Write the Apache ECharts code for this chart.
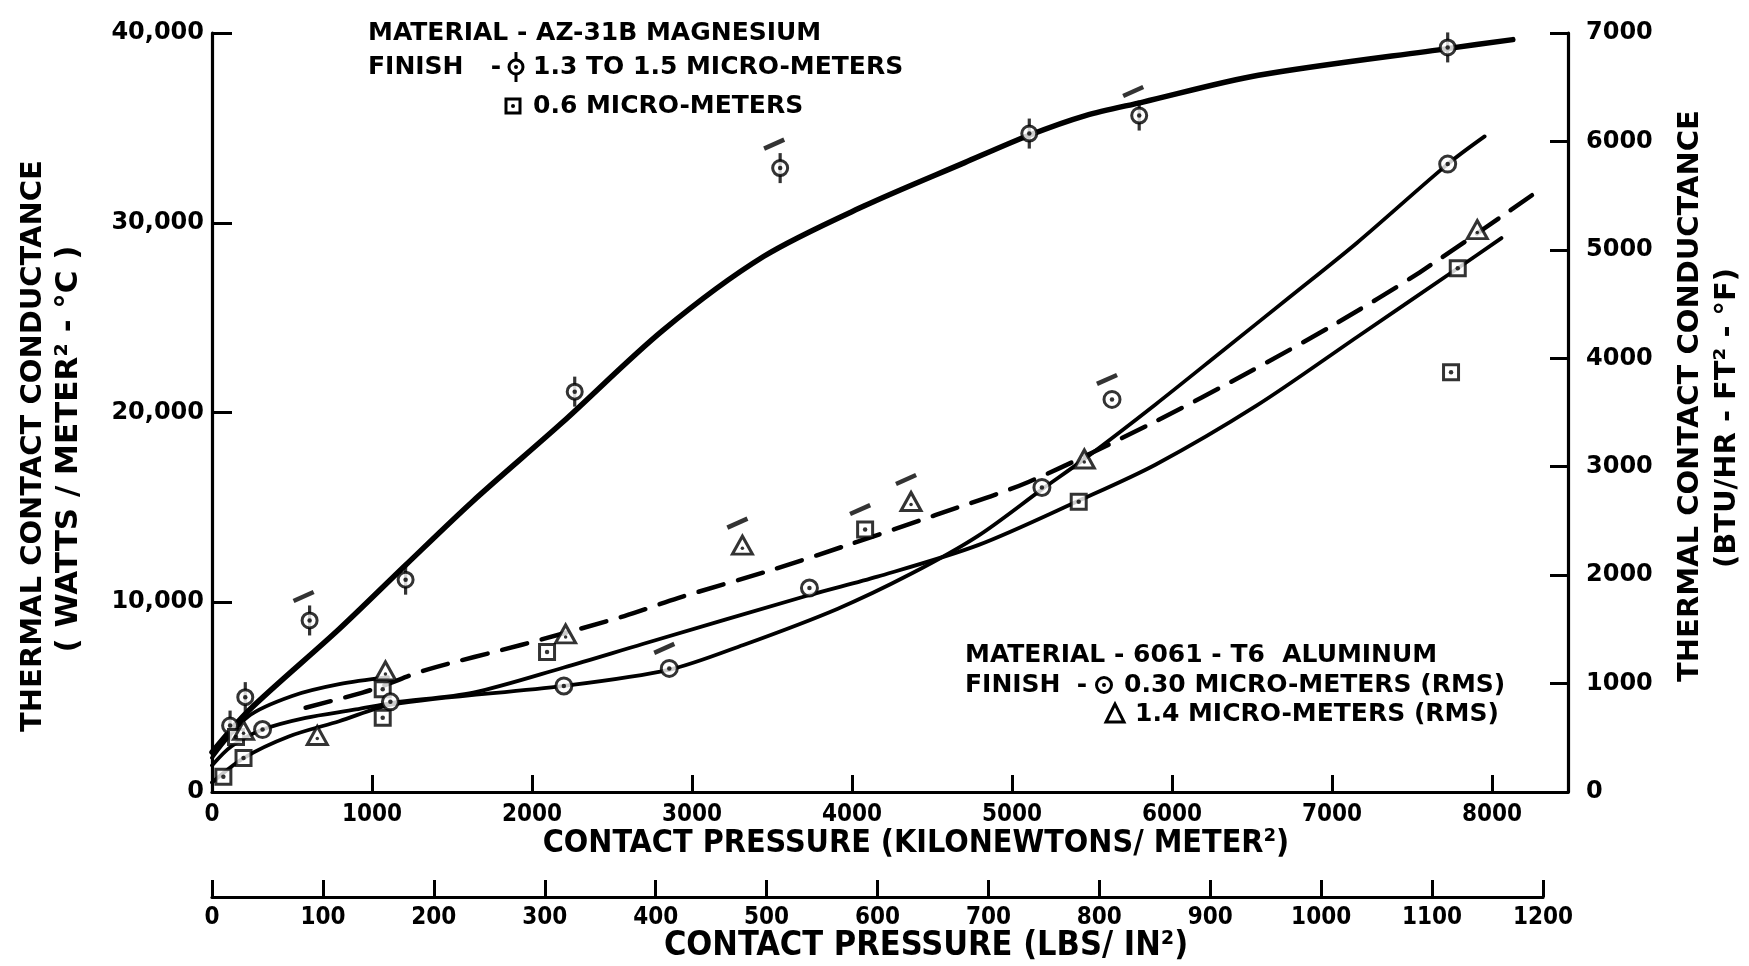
<!DOCTYPE html>
<html>
<head>
<meta charset="utf-8">
<script src="https://cdn.jsdelivr.net/npm/echarts@6/dist/echarts.min.js"></script>
<style>
  html, body { margin: 0; padding: 0; background: #fff; }
  #chart { width: 1749px; height: 966px; }
</style>
</head>
<body>
<div id="chart"></div>
<script>
// ---- axis ticks ----
const pressureKpaTicks = [0, 1000, 2000, 3000, 4000, 5000, 6000, 7000, 8000];
const pressurePsiTicks = [0, 100, 200, 300, 400, 500, 600, 700, 800, 900, 1000, 1100, 1200];
const conductanceSiTicks = [0, 10000, 20000, 30000, 40000];
const conductanceBtuTicks = [0, 1000, 2000, 3000, 4000, 5000, 6000, 7000];

// ---- AZ-31B magnesium, finish 1.3 to 1.5 micro-meters (kN/m², W/m²·°C) ----
const mgRoughPoints = [[113, 3500], [208, 5000], [610, 9040], [1210, 11190], [2267, 21100],
  [3551, 32880], [5108, 34700], [5795, 35650], [7723, 39240]];
const mgRoughFlagged = [[610, 9040], [3551, 32880], [5795, 35650]];
const mgRoughFit = [[0, 2100], [230, 4300], [795, 8590], [1209, 11950], [1627, 15300],
  [2189, 19470], [2818, 24330], [3447, 28220], [4075, 30880], [4704, 33170], [5103, 34600],
  [5459, 35650], [5818, 36360], [6540, 37770], [7730, 39190], [8130, 39650]];

// ---- AZ-31B magnesium, finish 0.6 micro-meters ----
const mgSmoothPoints = [[71, 810], [197, 1790], [150, 2900], [1067, 3910], [1067, 5410],
  [2094, 7380], [4082, 13830], [5417, 15290], [7744, 22120], [7786, 27600]];
const mgSmoothFlagged = [[4082, 13830]];
const mgSmoothFit = [[0, 1400], [120, 2400], [316, 3290], [585, 3910], [899, 4350], [1130, 4700],
  [1633, 5240], [2199, 6560], [2692, 7800], [3734, 10380], [4159, 11350], [4788, 13010],
  [5417, 15350], [5899, 17260], [6528, 20360], [7157, 23980], [7786, 27600], [8059, 29190]];

// ---- 6061-T6 aluminum, finish 0.30 micro-meters (RMS) ----
const alSmoothPoints = [[316, 3290], [1115, 4750], [2199, 5590], [2858, 6515], [3734, 10750],
  [5187, 16050], [5625, 20690], [7723, 33090]];
const alSmoothFlagged = [[2858, 6515], [5625, 20690]];
const alSmoothFit = [[0, 500], [197, 1790], [480, 2930], [795, 3730], [1130, 4620], [2199, 5590],
  [2860, 6450], [3321, 7750], [3908, 9650], [4369, 11500], [4788, 13500], [5187, 15950],
  [5449, 17530], [5899, 20440], [6319, 23270], [6738, 26100], [7157, 28950], [7723, 33090],
  [7954, 34550]];

// ---- 6061-T6 aluminum, finish 1.4 micro-meters (RMS) ----
const alRoughPoints = [[197, 3250], [658, 2980], [1084, 6380], [2210, 8330], [3315, 13010],
  [4369, 15310], [5452, 17550], [7908, 29640]];
const alRoughFlagged = [[3315, 13010], [4369, 15310]];
const alRoughLowFit = [[0, 1800], [228, 3990], [501, 5060], [795, 5680], [1100, 6050]];
const alRoughFit = [[585, 4440], [941, 5240], [1067, 5590], [1340, 6440], [1937, 7760],
  [2577, 9270], [2912, 10220], [3505, 11720], [3971, 13010], [4520, 14590], [5103, 16340],
  [5883, 19470], [6480, 22120], [7025, 24690], [7549, 27390], [8258, 31500]];

// ---- styling ----
const INK = '#000';
const BOLD = '"DejaVu Sans", "Liberation Sans", sans-serif';
const COND = '"DejaVu Sans Condensed", "DejaVu Sans", sans-serif';

const grid = { left: 212, top: 33, width: 1356, height: 759 };
const psiGrid = { left: 212, top: 870, width: 1331, height: 27 };

function fitLine(data, width, dashed) {
  return {
    type: 'line', data, smooth: 0.3, symbol: 'none', silent: true,
    xAxisIndex: 0, yAxisIndex: 0, z: 2,
    lineStyle: { color: INK, width, type: dashed ? [26, 15] : 'solid', cap: 'round', join: 'round' }
  };
}
function marker(data, symbol, size, z) {
  return {
    type: 'scatter', data, symbol, symbolSize: size, silent: true, z: z || 4,
    xAxisIndex: 0, yAxisIndex: 0,
    itemStyle: { color: '#fff', borderColor: INK, borderWidth: 3 }
  };
}
function solid(data, symbol, size, z, extra) {
  return Object.assign({
    type: 'scatter', data, symbol, symbolSize: size, silent: true, z,
    xAxisIndex: 0, yAxisIndex: 0, itemStyle: { color: INK }
  }, extra || {});
}
function flags(data, offset) {
  return solid(data, 'rect', [22, 4.5], 3, { symbolRotate: 24, symbolOffset: offset });
}

const series = [
  fitLine(mgRoughFit, 5.5, false),
  fitLine(mgSmoothFit, 3.8, false),
  fitLine(alSmoothFit, 3.8, false),
  fitLine(alRoughLowFit, 3.8, false),
  fitLine(alRoughFit, 4.5, true),

  // magnesium 1.3-1.5: circle with vertical stem
  solid(mgRoughPoints, 'rect', [3.2, 30], 3),
  marker(mgRoughPoints, 'circle', 15),
  solid(mgRoughPoints, 'circle', 4.5, 5),
  flags(mgRoughFlagged, [-6, -24]),

  // magnesium 0.6: dotted square
  marker(mgSmoothPoints, 'rect', 15),
  solid(mgSmoothPoints, 'circle', 4.5, 5),
  flags(mgSmoothFlagged, [-5, -20]),

  // aluminum 0.30: dotted circle
  marker(alSmoothPoints, 'circle', 16),
  solid(alSmoothPoints, 'circle', 4.5, 5),
  flags(alSmoothFlagged, [-5, -20]),

  // aluminum 1.4: triangle
  marker(alRoughPoints, 'triangle', [20, 18]),
  solid(alRoughPoints, 'circle', 3.5, 5, { symbolOffset: [0, 3] }),
  flags(alRoughFlagged, [-5, -22])
];

function text(str, x, y, font, align, rotation) {
  return {
    type: 'text', x, y, rotation: rotation || 0, silent: true, z: 10,
    style: {
      text: str, font, fill: INK,
      align: align || 'left', verticalAlign: 'middle',
      textAlign: align || 'left', textVerticalAlign: 'middle'
    }
  };
}
const legendFont = 'bold 25px ' + BOLD;
const titleFont = 'bold 29px ' + BOLD;
const axisNameFont = 'bold 32px ' + COND;
const UP = Math.PI / 2;

const graphic = [
  // magnesium key
  text('MATERIAL - AZ-31B MAGNESIUM', 368, 33, legendFont),
  text('FINISH', 368, 67, legendFont),
  text('-', 496, 67, legendFont, 'center'),
  { type: 'line', z: 10, shape: { x1: 516, y1: 52, x2: 516, y2: 82 }, style: { stroke: INK, lineWidth: 3 } },
  { type: 'circle', z: 11, shape: { cx: 516, cy: 67, r: 7 }, style: { fill: '#fff', stroke: INK, lineWidth: 3 } },
  { type: 'circle', z: 12, shape: { cx: 516, cy: 67, r: 2 }, style: { fill: INK } },
  text('1.3 TO 1.5 MICRO-METERS', 533, 67, legendFont),
  { type: 'rect', z: 11, shape: { x: 506, y: 99, width: 14, height: 14 }, style: { fill: '#fff', stroke: INK, lineWidth: 3 } },
  { type: 'circle', z: 12, shape: { cx: 513, cy: 106, r: 2 }, style: { fill: INK } },
  text('0.6 MICRO-METERS', 533, 106, legendFont),

  // aluminum key
  text('MATERIAL - 6061 - T6  ALUMINUM', 965, 655, legendFont),
  text('FINISH', 965, 685, legendFont),
  text('-', 1082, 685, legendFont, 'center'),
  { type: 'circle', z: 11, shape: { cx: 1104, cy: 685, r: 7.5 }, style: { fill: '#fff', stroke: INK, lineWidth: 3 } },
  { type: 'circle', z: 12, shape: { cx: 1104, cy: 685, r: 2 }, style: { fill: INK } },
  text('0.30 MICRO-METERS (RMS)', 1124, 685, legendFont),
  { type: 'polygon', z: 11, shape: { points: [[1115, 704], [1106, 722], [1124, 722]] }, style: { fill: '#fff', stroke: INK, lineWidth: 3 } },
  text('1.4 MICRO-METERS (RMS)', 1135, 714, legendFont),

  // axis titles
  text('THERMAL CONTACT CONDUCTANCE', 33, 446, titleFont, 'center', UP),
  text('( WATTS / METER² - °C )', 69, 449, 'bold 31px ' + BOLD, 'center', UP),
  text('THERMAL CONTACT CONDUCTANCE', 1690, 396, titleFont, 'center', UP),
  text('(BTU/HR - FT² - °F)', 1727, 418, titleFont, 'center', UP),
  text('CONTACT PRESSURE (KILONEWTONS/ METER²)', 916, 844, axisNameFont, 'center'),
  text('CONTACT PRESSURE (LBS/ IN²)', 926, 946, 'bold 34px ' + COND, 'center')
];

const axisLine = { show: true, onZero: false, lineStyle: { color: INK, width: 3.2 } };
function ticks(values, len) {
  return { show: true, inside: true, length: len, customValues: values, lineStyle: { color: INK, width: 3 } };
}
const plain = v => String(v);

const option = {
  animation: false,
  backgroundColor: '#fff',
  grid: [
    Object.assign({ containLabel: false }, grid),
    Object.assign({ containLabel: false }, psiGrid)
  ],
  xAxis: [
    {
      type: 'value', gridIndex: 0, min: 0, max: 8475, position: 'bottom',
      axisLine, axisTick: ticks(pressureKpaTicks.slice(1), 17), splitLine: { show: false },
      axisLabel: {
        customValues: pressureKpaTicks, margin: 11, color: INK, formatter: plain,
        fontFamily: COND, fontWeight: 'bold', fontSize: 24
      }
    },
    {
      type: 'value', gridIndex: 1, min: 0, max: 1200, position: 'bottom',
      axisLine, axisTick: ticks(pressurePsiTicks, 17), splitLine: { show: false },
      axisLabel: {
        customValues: pressurePsiTicks, margin: 9, color: INK, formatter: plain,
        fontFamily: COND, fontWeight: 'bold', fontSize: 24
      }
    }
  ],
  yAxis: [
    {
      type: 'value', gridIndex: 0, min: 0, max: 40000, position: 'left',
      axisLine, axisTick: ticks(conductanceSiTicks.slice(1), 20), splitLine: { show: false },
      axisLabel: {
        customValues: conductanceSiTicks, margin: 8, color: INK,
        fontFamily: BOLD, fontWeight: 'bold', fontSize: 24,
        formatter: v => v.toLocaleString('en-US')
      }
    },
    {
      type: 'value', gridIndex: 0, min: 0, max: 7000, position: 'right',
      axisLine, axisTick: ticks(conductanceBtuTicks.slice(1), 18), splitLine: { show: false },
      axisLabel: {
        customValues: conductanceBtuTicks, margin: 18, color: INK, formatter: plain,
        fontFamily: BOLD, fontWeight: 'bold', fontSize: 24
      }
    },
    { type: 'value', gridIndex: 1, show: false, min: 0, max: 1 }
  ],
  series,
  graphic
};

const chart = echarts.init(document.getElementById('chart'), null, { renderer: 'canvas' });
chart.setOption(option);
</script>
</body>
</html>
